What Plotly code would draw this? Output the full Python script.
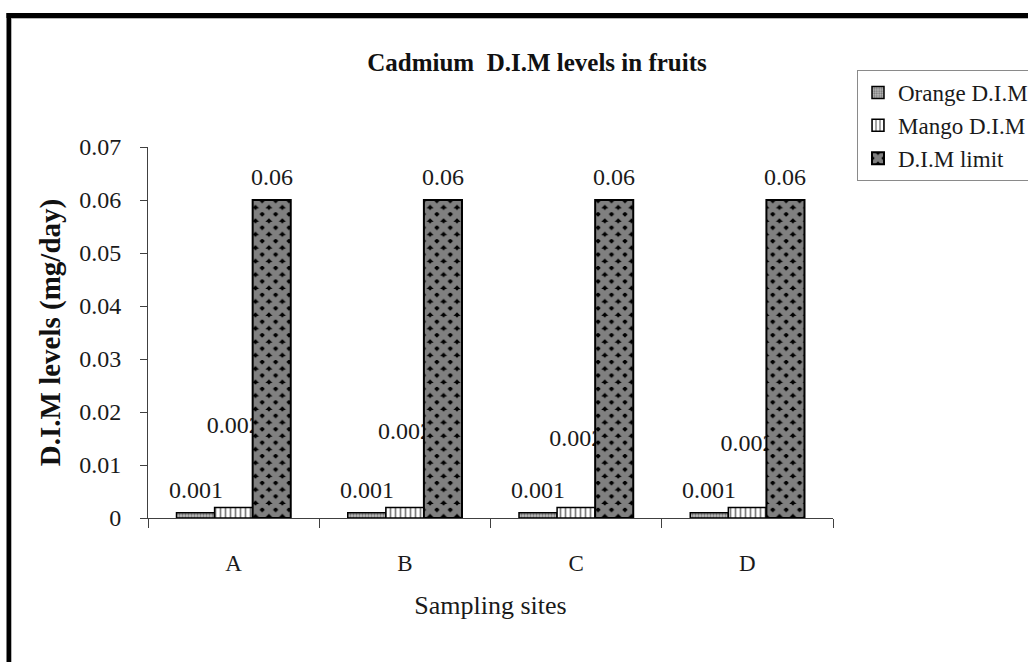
import plotly.graph_objects as go

# Daily intake of cadmium (D.I.M, mg/day) per sampling site
sites = ["A", "B", "C", "D"]
orange_dim = [0.001, 0.001, 0.001, 0.001]
mango_dim = [0.002, 0.002, 0.002, 0.002]
dim_limit = [0.06, 0.06, 0.06, 0.06]

# heights at which the mango value labels sit, per site
mango_label_y = [0.0172, 0.0160, 0.0147, 0.0138]

W, H = 1028, 662
ML, MR, MT, MB = 148, 195, 147, 144
PW, PH = W - ML - MR, H - MT - MB

FONT = "Liberation Serif"
AXIS_COL = "#404040"
TXT = "#1a1a1a"


def px_x(px):
    return (px - ML) / PW


def px_y(py):
    return (H - MB - py) / PH


bar_line = dict(color="black", width=1.5)
traces = []

# mango value labels live on the base layer so the limit bars drawn on the
# overlay subplot partly hide them
traces.append(go.Scatter(
    x=list(range(len(sites))), y=mango_label_y,
    text=[f"{v:g}" for v in mango_dim], mode="text",
    textfont=dict(family=FONT, size=24, color=TXT),
    textposition="middle center", showlegend=False, hoverinfo="skip",
    xaxis="x", yaxis="y",
))

traces.append(go.Bar(
    name="Orange D.I.M", x=sites, y=orange_dim, xaxis="x2", yaxis="y2",
    marker=dict(color="#8c8c8c", line=bar_line,
                pattern=dict(shape=".", size=3, solidity=0.45,
                             fgcolor="#2a2a2a", bgcolor="#bdbdbd")),
))
traces.append(go.Bar(
    name="Mango D.I.M", x=sites, y=mango_dim, xaxis="x2", yaxis="y2",
    marker=dict(color="white", line=bar_line,
                pattern=dict(shape="|", size=5, solidity=0.35,
                             fgcolor="black", bgcolor="white")),
))
# white diagonal lattice on black leaves a grid of black diamonds
traces.append(go.Bar(
    name="D.I.M limit", x=sites, y=dim_limit, xaxis="x2", yaxis="y2",
    marker=dict(color="black", line=dict(color="black", width=2),
                pattern=dict(shape="x", size=9.5, solidity=0.84,
                             fgcolor="white", bgcolor="black")),
))

fig = go.Figure(traces)

bargap = 0.333
bw = (1 - bargap) / 3
annotations = []
for i in range(len(sites)):
    for off, val in ((-bw, orange_dim[i]), (bw, dim_limit[i])):
        annotations.append(dict(
            x=i + off, y=val, xref="x2", yref="y2", text=f"{val:g}",
            showarrow=False, yanchor="middle", yshift=23,
            font=dict(family=FONT, size=24, color=TXT),
        ))

shapes = [
    # outer frame
    dict(type="line", xref="paper", yref="paper",
         x0=px_x(9), x1=px_x(9), y0=px_y(13), y1=px_y(720),
         line=dict(color="black", width=5)),
    dict(type="line", xref="paper", yref="paper",
         x0=px_x(6.5), x1=px_x(1100), y0=px_y(15.5), y1=px_y(15.5),
         line=dict(color="black", width=5)),
    dict(type="line", xref="paper", yref="paper",
         x0=px_x(11.5), x1=px_x(1100), y0=px_y(18.5), y1=px_y(18.5),
         line=dict(color="#b5b5b5", width=1)),
    dict(type="line", xref="paper", yref="paper",
         x0=px_x(11.5), x1=px_x(11.5), y0=px_y(18.5), y1=px_y(720),
         line=dict(color="#b5b5b5", width=1)),
]

fig.update_layout(
    width=W, height=H,
    margin=dict(l=ML, r=MR, t=MT, b=MB, pad=0, autoexpand=False),
    paper_bgcolor="white", plot_bgcolor="white",
    barmode="group", bargap=bargap, bargroupgap=0,
    font=dict(family=FONT, size=23, color=TXT),
    title=dict(text="<b>Cadmium\u00a0 D.I.M levels in fruits</b>",
               x=px_x(537), xref="paper", xanchor="center",
               y=1 - 62 / H, yanchor="middle",
               font=dict(family=FONT, size=25, color="#111")),
    xaxis=dict(domain=[0, 1], range=[-0.5, 3.5], visible=False,
               fixedrange=True),
    yaxis=dict(domain=[0, 1], range=[0, 0.07], visible=False,
               fixedrange=True),
    xaxis2=dict(overlaying="x", anchor="y2", type="category",
                categoryarray=sites, categoryorder="array",
                range=[-0.5, 3.5], showline=True, linecolor=AXIS_COL,
                linewidth=1, showgrid=False, zeroline=False,
                ticks="outside", tickson="boundaries", ticklen=9,
                tickcolor=AXIS_COL, ticklabelstandoff=24,
                tickfont=dict(family=FONT, size=23, color=TXT),
                title=dict(text="Sampling sites", standoff=21,
                           font=dict(family=FONT, size=26, color=TXT))),
    yaxis2=dict(overlaying="y", anchor="x2", range=[0, 0.07], dtick=0.01,
                tick0=0, showline=True, linecolor=AXIS_COL, linewidth=1,
                showgrid=False, zeroline=False, ticks="outside", ticklen=7,
                tickcolor=AXIS_COL, ticklabelstandoff=14,
                tickfont=dict(family=FONT, size=24, color=TXT),
                title=dict(text="<b>D.I.M levels (mg/day)</b>", standoff=10,
                           font=dict(family=FONT, size=29, color="#111"))),
    legend=dict(x=px_x(857), y=px_y(70), xanchor="left", yanchor="top",
                bgcolor="white", bordercolor="#8a8a8a", borderwidth=1,
                font=dict(family=FONT, size=23, color=TXT),
                tracegroupgap=0, itemwidth=30),
    annotations=annotations,
    shapes=shapes,
)

fig.write_html("out.html")
